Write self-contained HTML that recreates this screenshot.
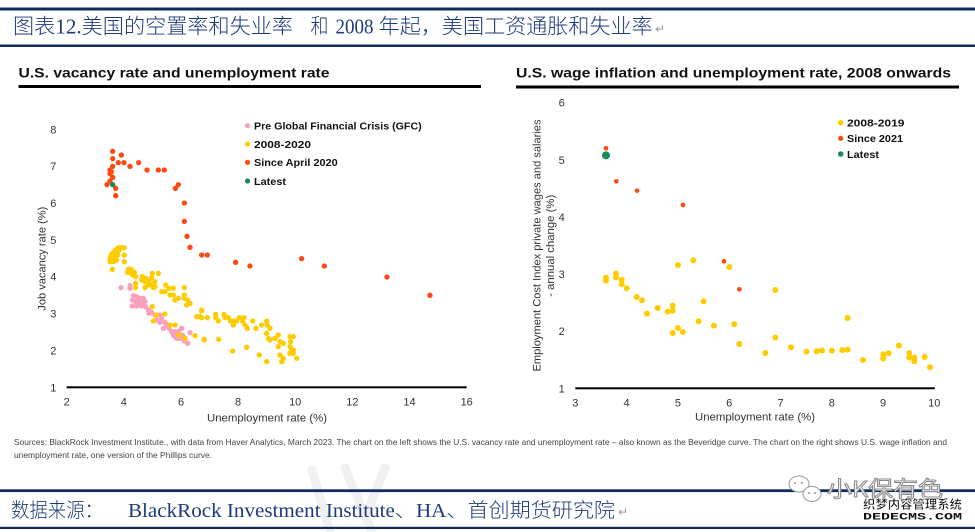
<!DOCTYPE html>
<html><head><meta charset="utf-8">
<style>
html,body{margin:0;padding:0;background:#fff;}
svg{display:block;}
.t{font-family:"Liberation Sans","Noto Sans CJK SC",sans-serif;}
</style></head>
<body>
<svg width="975" height="532" viewBox="0 0 975 532" xmlns="http://www.w3.org/2000/svg">
<rect width="975" height="532" fill="#fff"/>

<!-- faint background watermark strokes -->
<g stroke="#f1f1f3" stroke-width="9" fill="none" stroke-linecap="round">
<path d="M312 470 L330 532"/>
<path d="M345 468 L372 532"/>
<path d="M385 468 L366 515"/>
</g>

<!-- Header lines -->
<rect x="0" y="7.5" width="975" height="3" fill="#0f2a5f"/>
<rect x="0" y="44.5" width="975" height="2.5" fill="#0f2a5f"/>

<!-- Title -->
<g font-family="Liberation Serif,'Noto Sans CJK SC',serif" font-size="21" font-weight="300" fill="#1c3a7c">
<text x="13" y="33.5" textLength="280" lengthAdjust="spacingAndGlyphs">图表12.美国的空置率和失业率</text>
<text x="310.5" y="33.5" textLength="18" lengthAdjust="spacingAndGlyphs">和</text>
<text x="335.5" y="33.5" textLength="38" lengthAdjust="spacingAndGlyphs">2008</text>
<text x="378.7" y="33.5" textLength="274" lengthAdjust="spacingAndGlyphs">年起，美国工资通胀和失业率</text>
</g>
<text x="655" y="33" font-family="DejaVu Sans,sans-serif" font-size="12" fill="#999">↵</text>

<!-- Chart titles -->
<g class="t" font-weight="bold" font-size="13.5" fill="#111">
<text x="18.5" y="77.5" textLength="311" lengthAdjust="spacingAndGlyphs">U.S. vacancy rate and unemployment rate</text>
<text x="516" y="77.5" textLength="435" lengthAdjust="spacingAndGlyphs">U.S. wage inflation and unemployment rate, 2008 onwards</text>
</g>
<rect x="18.5" y="85" width="462.5" height="3" fill="#000"/>
<rect x="516" y="85.5" width="443" height="3" fill="#000"/>

<!-- ================= LEFT CHART ================= -->
<g class="t" font-size="11" fill="#333" text-anchor="middle">
<text x="53.3" y="391.3">1</text>
<text x="53.3" y="354.4">2</text>
<text x="53.3" y="317.6">3</text>
<text x="53.3" y="280.7">4</text>
<text x="53.3" y="243.9">5</text>
<text x="53.3" y="207">6</text>
<text x="53.3" y="170.2">7</text>
<text x="53.3" y="133.3">8</text>
<text x="66.7" y="405.7">2</text>
<text x="123.8" y="405.7">4</text>
<text x="181" y="405.7">6</text>
<text x="238.1" y="405.7">8</text>
<text x="295.2" y="405.7">10</text>
<text x="352.4" y="405.7">12</text>
<text x="409.5" y="405.7">14</text>
<text x="466.7" y="405.7">16</text>
<text x="267" y="421.7" textLength="120" lengthAdjust="spacingAndGlyphs">Unemployment rate (%)</text>
<text transform="translate(45.5,258.7) rotate(-90)" x="0" y="0" textLength="104" lengthAdjust="spacingAndGlyphs">Job vacancy rate (%)</text>
</g>
<rect x="66.7" y="386.3" width="400" height="2" fill="#000"/>

<!-- pink + yellow cluster (zoom7 coords) -->
<g transform="translate(95,235) scale(0.3333)">
<g fill="#f9a0bd">
<circle cx="78" cy="158" r="8"/><circle cx="105" cy="152" r="8"/><circle cx="105" cy="160" r="8"/>
<circle cx="115" cy="182" r="8"/><circle cx="125" cy="185" r="8"/><circle cx="135" cy="190" r="8"/><circle cx="145" cy="190" r="8"/>
<circle cx="112" cy="195" r="8"/><circle cx="122" cy="200" r="8"/><circle cx="135" cy="205" r="8"/><circle cx="145" cy="205" r="8"/>
<circle cx="112" cy="213" r="8"/><circle cx="125" cy="213" r="8"/><circle cx="140" cy="213" r="8"/><circle cx="152" cy="215" r="8"/>
<circle cx="160" cy="225" r="8"/><circle cx="162" cy="235" r="8"/><circle cx="180" cy="240" r="8"/><circle cx="195" cy="240" r="8"/>
<circle cx="200" cy="250" r="8"/><circle cx="185" cy="255" r="8"/><circle cx="195" cy="262" r="8"/><circle cx="210" cy="262" r="8"/>
<circle cx="205" cy="280" r="8"/><circle cx="222" cy="280" r="8"/><circle cx="230" cy="290" r="8"/><circle cx="240" cy="290" r="8"/>
<circle cx="250" cy="290" r="8"/><circle cx="235" cy="300" r="8"/><circle cx="248" cy="300" r="8"/><circle cx="262" cy="300" r="8"/>
<circle cx="245" cy="310" r="8"/><circle cx="255" cy="310" r="8"/><circle cx="268" cy="318" r="8"/><circle cx="278" cy="325" r="8"/>
<circle cx="285" cy="293" r="8"/><circle cx="260" cy="280" r="8"/><circle cx="130" cy="195" r="8"/><circle cx="150" cy="200" r="8"/>
<circle cx="170" cy="232" r="8"/><circle cx="215" cy="270" r="8"/><circle cx="240" cy="305" r="8"/><circle cx="265" cy="305" r="8"/>
</g>
<g fill="#ffcc00">
<circle cx="70" cy="38" r="8"/><circle cx="80" cy="38" r="8"/><circle cx="88" cy="38" r="8"/><circle cx="62" cy="45" r="8"/>
<circle cx="72" cy="45" r="8"/><circle cx="55" cy="52" r="8"/><circle cx="65" cy="52" r="8"/><circle cx="48" cy="60" r="8"/>
<circle cx="58" cy="60" r="8"/><circle cx="68" cy="60" r="8"/><circle cx="45" cy="70" r="8"/><circle cx="55" cy="70" r="8"/>
<circle cx="65" cy="75" r="8"/><circle cx="45" cy="80" r="8"/><circle cx="55" cy="80" r="8"/><circle cx="88" cy="60" r="8"/>
<circle cx="88" cy="80" r="8"/><circle cx="52" cy="103" r="8"/><circle cx="100" cy="103" r="8"/><circle cx="108" cy="103" r="8"/>
<circle cx="98" cy="112" r="8"/><circle cx="108" cy="112" r="8"/><circle cx="118" cy="112" r="8"/><circle cx="122" cy="125" r="8"/>
<circle cx="112" cy="120" r="8"/><circle cx="142" cy="125" r="8"/><circle cx="152" cy="130" r="8"/><circle cx="140" cy="135" r="8"/>
<circle cx="150" cy="140" r="8"/><circle cx="162" cy="135" r="8"/><circle cx="172" cy="115" r="8"/><circle cx="190" cy="115" r="8"/>
<circle cx="160" cy="150" r="8"/><circle cx="170" cy="150" r="8"/><circle cx="180" cy="140" r="8"/><circle cx="180" cy="155" r="8"/>
<circle cx="122" cy="145" r="8"/><circle cx="122" cy="158" r="8"/><circle cx="150" cy="158" r="8"/><circle cx="175" cy="158" r="8"/>
<circle cx="200" cy="170" r="8"/><circle cx="210" cy="170" r="8"/><circle cx="212" cy="150" r="8"/><circle cx="222" cy="160" r="8"/>
<circle cx="235" cy="160" r="8"/><circle cx="225" cy="180" r="8"/><circle cx="235" cy="180" r="8"/><circle cx="240" cy="195" r="8"/>
<circle cx="250" cy="190" r="8"/><circle cx="268" cy="158" r="8"/><circle cx="268" cy="180" r="8"/><circle cx="268" cy="190" r="8"/>
<circle cx="278" cy="195" r="8"/><circle cx="285" cy="205" r="8"/><circle cx="275" cy="210" r="8"/><circle cx="172" cy="215" r="8"/>
<circle cx="185" cy="240" r="8"/><circle cx="175" cy="258" r="8"/><circle cx="210" cy="237" r="8"/><circle cx="225" cy="270" r="8"/>
<circle cx="240" cy="270" r="8"/><circle cx="305" cy="245" r="8"/><circle cx="315" cy="245" r="8"/><circle cx="320" cy="228" r="8"/>
<circle cx="300" cy="302" r="8"/><circle cx="270" cy="310" r="8"/><circle cx="328" cy="315" r="8"/><circle cx="252" cy="300" r="8"/>
<circle cx="160" cy="142" r="8"/><circle cx="170" cy="128" r="8"/>
</g>
</g>

<!-- yellow cluster right part (zoom8 coords) -->
<g transform="translate(200,285) scale(0.3333)" fill="#ffcc00">
<circle cx="5" cy="75" r="8"/><circle cx="5" cy="98" r="8"/><circle cx="22" cy="98" r="8"/><circle cx="47" cy="88" r="8"/>
<circle cx="47" cy="98" r="8"/><circle cx="55" cy="108" r="8"/><circle cx="72" cy="88" r="8"/><circle cx="75" cy="98" r="8"/>
<circle cx="85" cy="98" r="8"/><circle cx="92" cy="108" r="8"/><circle cx="100" cy="120" r="8"/><circle cx="100" cy="108" r="8"/>
<circle cx="110" cy="108" r="8"/><circle cx="118" cy="98" r="8"/><circle cx="132" cy="98" r="8"/><circle cx="128" cy="108" r="8"/>
<circle cx="135" cy="120" r="8"/><circle cx="142" cy="130" r="8"/><circle cx="158" cy="108" r="8"/><circle cx="168" cy="130" r="8"/>
<circle cx="185" cy="120" r="8"/><circle cx="200" cy="108" r="8"/><circle cx="202" cy="120" r="8"/><circle cx="210" cy="130" r="8"/>
<circle cx="200" cy="145" r="8"/><circle cx="205" cy="160" r="8"/><circle cx="210" cy="165" r="8"/><circle cx="225" cy="160" r="8"/>
<circle cx="235" cy="150" r="8"/><circle cx="240" cy="170" r="8"/><circle cx="235" cy="185" r="8"/><circle cx="250" cy="175" r="8"/>
<circle cx="270" cy="155" r="8"/><circle cx="280" cy="155" r="8"/><circle cx="270" cy="185" r="8"/><circle cx="280" cy="195" r="8"/>
<circle cx="270" cy="205" r="8"/><circle cx="280" cy="205" r="8"/><circle cx="290" cy="220" r="8"/><circle cx="240" cy="210" r="8"/>
<circle cx="250" cy="220" r="8"/><circle cx="245" cy="230" r="8"/><circle cx="200" cy="230" r="8"/><circle cx="178" cy="210" r="8"/>
<circle cx="140" cy="187" r="8"/><circle cx="98" cy="198" r="8"/><circle cx="56" cy="163" r="8"/><circle cx="12" cy="163" r="8"/>
<circle cx="275" cy="195" r="8"/><circle cx="272" cy="170" r="8"/>
</g>

<!-- red since April 2020 (zoom5 coords) -->
<g transform="translate(50,140) scale(0.3333)">
<g fill="#fc4a12">
<circle cx="188" cy="34" r="8"/><circle cx="214" cy="45" r="8"/><circle cx="188" cy="56" r="8"/><circle cx="205" cy="68" r="8"/>
<circle cx="222" cy="68" r="8"/><circle cx="266" cy="68" r="8"/><circle cx="188" cy="79" r="8"/><circle cx="240" cy="79" r="8"/>
<circle cx="180" cy="90" r="8"/><circle cx="291" cy="90" r="8"/><circle cx="325" cy="90" r="8"/><circle cx="343" cy="90" r="8"/>
<circle cx="180" cy="101" r="8"/><circle cx="188" cy="112" r="8"/><circle cx="180" cy="123" r="8"/><circle cx="171" cy="134" r="8"/>
<circle cx="197" cy="145" r="8"/><circle cx="197" cy="167" r="8"/><circle cx="376" cy="145" r="8"/><circle cx="385" cy="134" r="8"/>
<circle cx="403" cy="189" r="8"/><circle cx="403" cy="244" r="8"/><circle cx="411" cy="289" r="8"/><circle cx="420" cy="322" r="8"/>
<circle cx="455" cy="345" r="8"/><circle cx="472" cy="345" r="8"/><circle cx="184" cy="95" r="8"/>
</g>
<circle cx="188" cy="134" r="8" fill="#178a58"/>
</g>
<g transform="translate(0,100) scale(0.3333)" fill="#fc4a12">
<circle cx="707" cy="487" r="8"/><circle cx="750" cy="498" r="8"/><circle cx="905" cy="476" r="8"/>
<circle cx="973" cy="498" r="8"/><circle cx="1161" cy="531" r="8"/><circle cx="1290" cy="586" r="8"/>
</g>

<!-- left legend -->
<g class="t" font-weight="bold" font-size="10.5" fill="#111">
<circle cx="247.5" cy="125.7" r="2.6" fill="#f9a0bd"/>
<text x="254" y="129.5" textLength="167.7" lengthAdjust="spacingAndGlyphs">Pre Global Financial Crisis (GFC)</text>
<circle cx="247.5" cy="144" r="2.6" fill="#ffcc00"/>
<text x="254" y="147.8" textLength="57" lengthAdjust="spacingAndGlyphs">2008-2020</text>
<circle cx="247.5" cy="162.3" r="2.6" fill="#fc4a12"/>
<text x="254" y="166.1" textLength="83.7" lengthAdjust="spacingAndGlyphs">Since April 2020</text>
<circle cx="247.5" cy="181" r="2.6" fill="#178a58"/>
<text x="254" y="184.8" textLength="32" lengthAdjust="spacingAndGlyphs">Latest</text>
</g>

<!-- ================= RIGHT CHART ================= -->
<g class="t" font-size="11" fill="#333" text-anchor="middle">
<text x="561.7" y="392.3">1</text>
<text x="561.7" y="335.2">2</text>
<text x="561.7" y="278">3</text>
<text x="561.7" y="220.9">4</text>
<text x="561.7" y="163.8">5</text>
<text x="561.7" y="106.7">6</text>
<text x="575.3" y="406.7">3</text>
<text x="626.6" y="406.7">4</text>
<text x="677.9" y="406.7">5</text>
<text x="729.2" y="406.7">6</text>
<text x="780.5" y="406.7">7</text>
<text x="831.8" y="406.7">8</text>
<text x="883.1" y="406.7">9</text>
<text x="934.3" y="406.7">10</text>
<text x="755" y="420.7" textLength="120" lengthAdjust="spacingAndGlyphs">Unemployment rate (%)</text>
<text transform="translate(540.5,245.5) rotate(-90)" x="0" y="0" textLength="252" lengthAdjust="spacingAndGlyphs">Employment Cost Index private wages and salaries</text>
<text transform="translate(553.8,245.8) rotate(-90)" x="0" y="0" textLength="102" lengthAdjust="spacingAndGlyphs">- annual change (%)</text>
</g>
<rect x="575.3" y="387.3" width="359.5" height="2" fill="#000"/>

<g transform="translate(490,90) scale(0.3333)">
<g fill="#ffcc00">
<circle cx="348" cy="563" r="9"/><circle cx="348" cy="572" r="9"/><circle cx="378" cy="551" r="9"/><circle cx="378" cy="562" r="9"/>
<circle cx="395" cy="569" r="9"/><circle cx="395" cy="583" r="9"/><circle cx="410" cy="595" r="9"/><circle cx="440" cy="621" r="9"/>
<circle cx="456" cy="631" r="9"/><circle cx="471" cy="671" r="9"/><circle cx="503" cy="654" r="9"/><circle cx="533" cy="665" r="9"/>
<circle cx="548" cy="647" r="9"/><circle cx="548" cy="662" r="9"/><circle cx="548" cy="729" r="9"/><circle cx="564" cy="714" r="9"/>
<circle cx="579" cy="726" r="9"/><circle cx="564" cy="525" r="9"/><circle cx="610" cy="511" r="9"/><circle cx="626" cy="694" r="9"/>
<circle cx="641" cy="634" r="9"/><circle cx="672" cy="707" r="9"/><circle cx="718" cy="531" r="9"/><circle cx="733" cy="703" r="9"/>
<circle cx="748" cy="762" r="9"/><circle cx="826" cy="789" r="9"/><circle cx="856" cy="600" r="9"/><circle cx="856" cy="743" r="9"/>
<circle cx="903" cy="772" r="9"/><circle cx="950" cy="785" r="9"/><circle cx="980" cy="784" r="9"/><circle cx="996" cy="782" r="9"/>
<circle cx="1026" cy="782" r="9"/><circle cx="1057" cy="780" r="9"/><circle cx="1073" cy="779" r="9"/><circle cx="1073" cy="684" r="9"/>
<circle cx="1119" cy="810" r="9"/><circle cx="1180" cy="793" r="9"/><circle cx="1180" cy="806" r="9"/><circle cx="1196" cy="790" r="9"/>
<circle cx="1227" cy="767" r="9"/><circle cx="1258" cy="789" r="9"/><circle cx="1258" cy="803" r="9"/><circle cx="1273" cy="803" r="9"/>
<circle cx="1273" cy="814" r="9"/><circle cx="1304" cy="801" r="9"/><circle cx="1320" cy="832" r="9"/>
</g>
<g fill="#fc4a12">
<circle cx="348" cy="175" r="7"/><circle cx="379" cy="274" r="7"/><circle cx="441" cy="302" r="7"/>
<circle cx="579" cy="345" r="7"/><circle cx="702" cy="514" r="7"/><circle cx="748" cy="598" r="7"/>
</g>
<circle cx="348" cy="196" r="12" fill="#178a58"/>
</g>

<!-- right legend -->
<g class="t" font-weight="bold" font-size="10.5" fill="#111">
<circle cx="840.7" cy="122.7" r="2.8" fill="#ffcc00"/>
<text x="847" y="126.5" textLength="57.5" lengthAdjust="spacingAndGlyphs">2008-2019</text>
<circle cx="840.7" cy="138.3" r="2.6" fill="#fc4a12"/>
<text x="847" y="142.1" textLength="56" lengthAdjust="spacingAndGlyphs">Since 2021</text>
<circle cx="840.7" cy="154" r="2.8" fill="#178a58"/>
<text x="847" y="157.8" textLength="32" lengthAdjust="spacingAndGlyphs">Latest</text>
</g>

<!-- Sources -->
<g class="t" font-size="8.3" fill="#444">
<text x="14" y="445" textLength="933" lengthAdjust="spacingAndGlyphs">Sources: BlackRock Investment Institute., with data from Haver Analytics, March 2023. The chart on the left shows the U.S. vacancy rate and unemployment rate – also known as the Beveridge curve. The chart on the right shows U.S. wage inflation and</text>
<text x="14" y="458" textLength="198" lengthAdjust="spacingAndGlyphs">unemployment rate, one version of the Phillips curve.</text>
</g>

<!-- Footer -->
<rect x="0" y="489.3" width="975" height="2.8" fill="#0f2a5f"/>
<rect x="0" y="526.8" width="975" height="2.2" fill="#0f2a5f"/>
<g font-family="Liberation Serif,'Noto Sans CJK SC',serif" font-size="20" font-weight="300" fill="#1c3a7c">
<text x="11" y="517" textLength="92" lengthAdjust="spacingAndGlyphs">数据来源：</text>
<text x="128" y="517" textLength="487" lengthAdjust="spacingAndGlyphs">BlackRock Investment Institute、HA、首创期货研究院</text>
</g>
<text x="618" y="516" font-family="DejaVu Sans,sans-serif" font-size="12" fill="#999">↵</text>

<!-- watermark logo -->
<g fill="#fff" stroke="#999" stroke-width="1">
<ellipse cx="799" cy="484" rx="10" ry="8"/>
<ellipse cx="812" cy="494" rx="9" ry="7.5"/>
</g>
<g fill="#999">
<circle cx="795" cy="483" r="1"/><circle cx="802" cy="483" r="1"/>
<circle cx="809" cy="493" r="1"/><circle cx="815" cy="493" r="1"/>
</g>
<text x="827" y="497" font-family="'Noto Sans CJK SC',sans-serif" font-size="22" fill="#fff" stroke="#8a8a8a" stroke-width="1" textLength="116" lengthAdjust="spacingAndGlyphs">小K保有色</text>
<text x="863" y="508.5" font-family="'Noto Sans CJK SC',sans-serif" font-weight="bold" font-size="12" fill="#111" stroke="#fff" stroke-width="0.4" textLength="99" lengthAdjust="spacingAndGlyphs">织梦内容管理系统</text>
<text x="863" y="519.5" font-family="'Liberation Mono',monospace" font-weight="bold" font-size="10" fill="#111" textLength="99" lengthAdjust="spacingAndGlyphs">DEDECMS.COM</text>
</svg>
</body></html>
